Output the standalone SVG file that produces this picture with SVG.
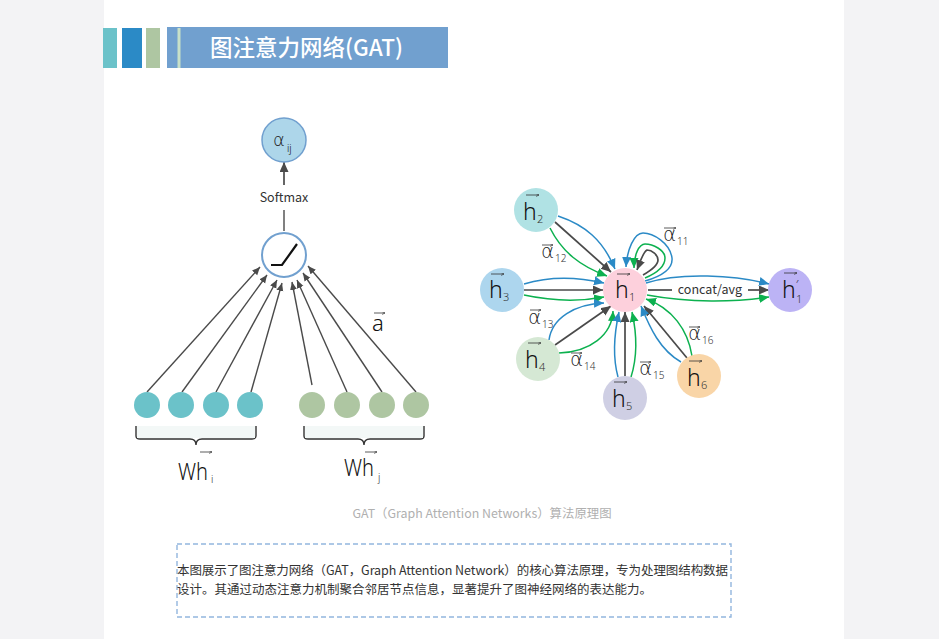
<svg xmlns="http://www.w3.org/2000/svg" width="939" height="639" viewBox="0 0 939 639">
<style>
text{font-family:"Noto Sans CJK SC","Noto Sans",sans-serif}
.m{font-family:"Noto Sans","DejaVu Sans",sans-serif;font-weight:300;fill:#111}
.d{font-family:"DejaVu Sans",sans-serif;font-weight:200;fill:#222}
.l{font-size:23px}.s{font-size:11px;fill:#333}.a{font-size:20px}.t{font-size:10px;fill:#333}
.g{fill:none;stroke:#4a4a4a;stroke-width:1.4;marker-end:url(#h)}
.k{fill:none;stroke:#4a4a4a;stroke-width:1.7;marker-end:url(#k)}
.b{fill:none;stroke:#2b8ac6;stroke-width:1.5;marker-end:url(#b)}
.n{fill:none;stroke:#0cb14f;stroke-width:1.5;marker-end:url(#n)}
.v{stroke:#333;stroke-width:.8;marker-end:url(#v);fill:none}
.br{fill:none;stroke:#333;stroke-width:1.4}
</style>
<defs>
<marker id="h" markerWidth="9" markerHeight="8" refX="8" refY="3.500" orient="auto" markerUnits="userSpaceOnUse"><path d="M0 0L8 3.500L0 7Z" fill="#4a4a4a"/></marker>
<marker id="k" markerWidth="11" markerHeight="10" refX="10" refY="4.500" orient="auto" markerUnits="userSpaceOnUse"><path d="M0 0L10 4.500L0 9Z" fill="#4a4a4a"/></marker>
<marker id="b" markerWidth="11" markerHeight="10" refX="10" refY="4.500" orient="auto" markerUnits="userSpaceOnUse"><path d="M0 0L10 4.500L0 9Z" fill="#2b8ac6"/></marker>
<marker id="n" markerWidth="11" markerHeight="10" refX="10" refY="4.500" orient="auto" markerUnits="userSpaceOnUse"><path d="M0 0L10 4.500L0 9Z" fill="#0cb14f"/></marker>
<marker id="v" markerWidth="4" markerHeight="4" refX="3" refY="1.500" orient="auto" markerUnits="userSpaceOnUse"><path d="M0 0L3 1.500L0 3" fill="none" stroke="#333" stroke-width=".6"/></marker>
</defs>
<rect width="939" height="639" fill="#f3f3f5"/>
<rect x="104" width="740" height="639" fill="#fff"/>
<g id="title-banner">
<rect x="103" y="28" width="14" height="40" fill="#6bc2c9"/>
<rect x="122" y="28" width="20" height="40" fill="#2b8ac6"/>
<rect x="146" y="28" width="14" height="40" fill="#aec6a2"/>
<rect x="167" y="27" width="281" height="41" fill="#71a0cf"/>
<rect x="177.500" y="28" width="3" height="40" fill="#c8e0c8"/>
<text x="306.500" y="56" font-size="22.500" font-weight="500" fill="#fff" text-anchor="middle">图注意力网络(GAT)</text>
</g>
<g id="connectors">
<path d="M284 231V210" fill="none" stroke="#4a4a4a" stroke-width="1.400"/>
<path class="k" d="M284 185V162"/>
<path class="g" d="M147 392L260 267"/>
<path class="g" d="M182 392L267 275"/>
<path class="g" d="M216 392L277 280"/>
<path class="g" d="M251 392L282 283"/>
<path class="g" d="M312 385L292 282"/>
<path class="g" d="M347 392L297 280"/>
<path class="g" d="M382 392L303 273"/>
<path class="g" d="M416 392L308 266"/>
<path class="br" d="M136 426V436Q136 439 140 439H190Q196 439 196 445Q196 439 202 439H252Q256 439 256 436V426"/>
<path class="br" d="M304 426V436Q304 439 308 439H358Q364 439 364 445Q364 439 370 439H420Q424 439 424 436V426"/>
<rect x="137" y="426" width="118" height="12" fill="#f3f8f7"/>
<rect x="305" y="426" width="118" height="12" fill="#f3f8f7"/>
<path class="k" d="M555 222L611 272"/>
<path class="b" d="M558 216C585 225 603 240 615 269"/>
<path class="n" d="M550 228C562 252 580 266 607 276"/>
<path class="k" d="M524 290H603"/>
<path class="b" d="M524 284C550 276 578 277 604 283"/>
<path class="n" d="M524 295C552 301 578 302 604 297"/>
<path class="k" d="M555 345L611 306"/>
<path class="b" d="M549 340C552 318 575 304 604 303"/>
<path class="n" d="M559 353C590 352 612 335 613 311"/>
<path class="k" d="M625 376V312"/>
<path class="b" d="M618 377C612 355 615 330 619 312"/>
<path class="n" d="M631 377C638 355 636 330 632 312"/>
<path class="k" d="M687 358L644 306"/>
<path class="b" d="M681 362C660 350 650 328 641 306"/>
<path class="n" d="M692 356C688 330 672 308 646 299"/>
<path class="b" d="M646 283C680 272 735 275 769 284"/>
<path class="n" d="M647 295C690 303 735 302 769 297"/>
<path class="k" d="M748 290H769"/>
<path d="M648 290H672" fill="none" stroke="#4a4a4a" stroke-width="1.700"/>
<path class="b" d="M645 281C662 276 673 268 672 258C670 243 653 233 643 233C634 233 627 250 626 267"/>
<path class="n" d="M645 278C657 273 665 266 665 258C665 250 653 244 645 244C639 244 634 255 634 268"/>
<path class="k" d="M643 275C650 271 658 266 658 260C658 255 652 250 647 250C643 252 640 262 637 270"/>
</g>
<g id="node-alpha"><circle cx="284" cy="140" r="22" fill="#add6ea" stroke="#71a0cf" stroke-width="1.500"/><text class="d" x="273" y="146" font-size="18">α</text><text class="m" x="287" y="152" font-size="10">ij</text></g>
<text id="label-softmax" x="284" y="202" font-size="12.500" fill="#333" text-anchor="middle">Softmax</text>
<g id="node-activation"><circle cx="284" cy="255" r="22" fill="#fff" stroke="#71a0cf" stroke-width="2"/><path d="M271 265H282L297 244" fill="none" stroke="#111" stroke-width="2.200"/></g>
<g id="dots-i" fill="#6bc2c9"><circle cx="147" cy="405" r="13"/><circle cx="181" cy="405" r="13"/><circle cx="216" cy="405" r="13"/><circle cx="250" cy="405" r="13"/></g>
<g id="dots-j" fill="#aec6a2"><circle cx="312" cy="405" r="13"/><circle cx="347" cy="405" r="13"/><circle cx="382" cy="405" r="13"/><circle cx="416" cy="405" r="13"/></g>
<g id="label-a"><text class="m" x="372" y="331" font-size="22">a</text><path class="v" d="M374 313H385"/></g>
<g id="label-whi"><text class="m" x="178" y="480" font-size="23" textLength="30" lengthAdjust="spacingAndGlyphs">Wh</text><text class="m t" x="211" y="483">i</text><path class="v" d="M200 452H212"/></g>
<g id="label-whj"><text class="m" x="344" y="476" font-size="23" textLength="30" lengthAdjust="spacingAndGlyphs">Wh</text><text class="m t" x="378" y="481">j</text><path class="v" d="M365 452H377"/></g>
<g id="node-h2"><circle cx="536" cy="210" r="22" fill="#b0e2e4"/><text class="m l" x="523" y="220">h</text><text class="m s" x="537" y="223">2</text><path class="v" d="M526 195H539"/></g>
<g id="node-h3"><circle cx="502" cy="290" r="22" fill="#add6ee"/><text class="m l" x="489" y="298">h</text><text class="m s" x="503" y="301">3</text><path class="v" d="M491 274H504"/></g>
<g id="node-h1"><circle cx="625" cy="290" r="22" fill="#fdd0dc"/><text class="m l" x="615" y="298">h</text><text class="m s" x="629" y="301">1</text><path class="v" d="M617 274H630"/></g>
<g id="node-h4"><circle cx="538" cy="359" r="22" fill="#d5e8d4"/><text class="m l" x="525" y="368">h</text><text class="m s" x="539" y="371">4</text><path class="v" d="M528 343H541"/></g>
<g id="node-h5"><circle cx="625" cy="398" r="22" fill="#cfcfe4"/><text class="m l" x="612" y="407">h</text><text class="m s" x="626" y="410">5</text><path class="v" d="M614 382H627"/></g>
<g id="node-h6"><circle cx="699" cy="376" r="22" fill="#f9d5a7"/><text class="m l" x="687" y="386">h</text><text class="m s" x="701" y="389">6</text><path class="v" d="M689 361H702"/></g>
<g id="node-h1p"><circle cx="790" cy="290" r="22" fill="#bcb3f5"/><text class="m l" x="782" y="298">h</text><text class="m" x="796" y="288" font-size="11">′</text><text class="m s" x="796" y="303">1</text><path class="v" d="M784 273H797"/></g>
<text id="label-concat" x="710" y="294" font-size="12.500" fill="#333" text-anchor="middle">concat/avg</text>
<g id="edge-labels">
<g><text class="d a" x="541" y="258">α</text><text class="m t" x="555" y="262">12</text><path class="v" d="M542 245H553"/></g>
<g><text class="d a" x="528" y="324">α</text><text class="m t" x="542" y="328">13</text><path class="v" d="M530 310H541"/></g>
<g><text class="d a" x="570" y="366">α</text><text class="m t" x="584" y="370">14</text><path class="v" d="M571 353H582"/></g>
<g><text class="d a" x="639" y="375">α</text><text class="m t" x="653" y="379">15</text><path class="v" d="M640 362H651"/></g>
<g><text class="d a" x="688" y="340">α</text><text class="m t" x="702" y="344">16</text><path class="v" d="M689 327H700"/></g>
<g><text class="d a" x="663" y="241">α</text><text class="m t" x="677" y="245">11</text><path class="v" d="M664 228H676"/></g>
</g>
<text id="caption" x="482" y="518" font-size="12.400" fill="#b0b0b0" text-anchor="middle">GAT（Graph Attention Networks）算法原理图</text>
<g id="description">
<rect x="177" y="544" width="554" height="73" fill="none" stroke="#92b6de" stroke-width="1.400" stroke-dasharray="5 3"/>
<text x="177" y="575" font-size="12.500" fill="#333" textLength="551">本图展示了图注意力网络（GAT，Graph Attention Network）的核心算法原理，专为处理图结构数据</text>
<text x="177" y="594" font-size="12.500" fill="#333">设计。其通过动态注意力机制聚合邻居节点信息，显著提升了图神经网络的表达能力。</text>
</g>
</svg>
